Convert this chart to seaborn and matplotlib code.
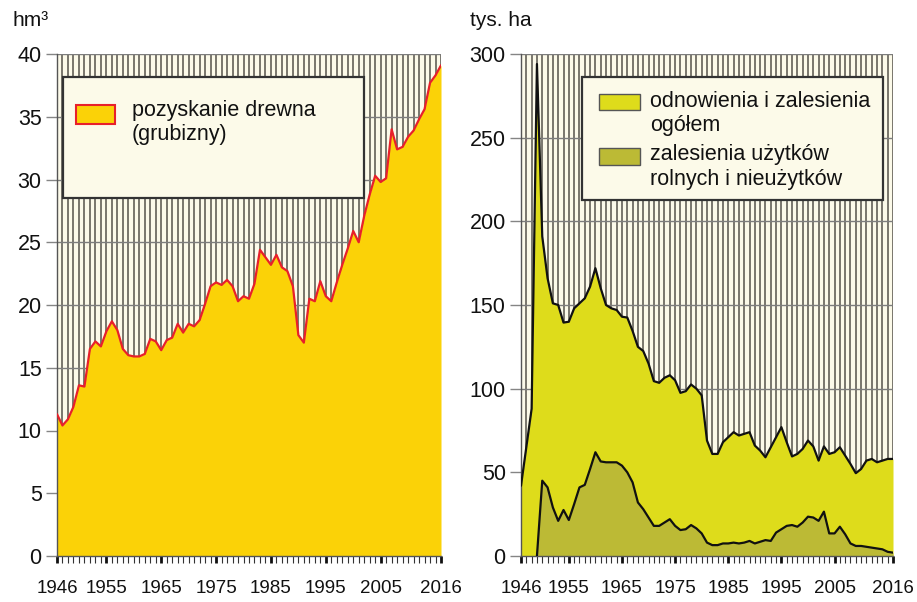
import matplotlib.pyplot as plt
import seaborn as sns
from matplotlib.patches import Rectangle
from matplotlib.ticker import FixedLocator, MultipleLocator

years = list(range(1946, 2017))
year_labels = [1946, 1955, 1965, 1975, 1985, 1995, 2005, 2016]

# pozyskanie drewna (grubizny), hm3
wood_harvest = [
    11.3, 10.4, 10.9, 11.9, 13.6, 13.5, 16.5, 17.1, 16.7, 17.9,   # 1946-1955
    18.7, 18.0, 16.5, 16.0, 15.9, 15.9, 16.1, 17.3, 17.1, 16.4,   # 1956-1965
    17.2, 17.4, 18.5, 17.8, 18.5, 18.3, 18.8, 20.1, 21.5, 21.8,   # 1966-1975
    21.6, 22.0, 21.5, 20.3, 20.7, 20.5, 21.7, 24.4, 23.8, 23.2,   # 1976-1985
    24.0, 23.0, 22.7, 21.5, 17.6, 17.0, 20.5, 20.3, 21.9, 20.7,   # 1986-1995
    20.3, 21.8, 23.2, 24.5, 25.9, 25.0, 27.1, 28.8, 30.3, 29.8,   # 1996-2005
    30.1, 34.0, 32.4, 32.6, 33.4, 33.9, 34.8, 35.6, 37.7, 38.3,   # 2006-2015
    39.1,
]

# odnowienia i zalesienia ogolem, tys. ha
renewal_total = [
    42, 65, 88, 294, 191, 166, 151, 150, 139.5, 140,
    148, 151, 154, 161, 172, 160, 150, 148, 147, 143,
    142.5, 134.5, 125, 122.5, 115, 104.5, 103.5, 106.5, 108, 105,
    97.5, 98.5, 102.5, 100, 96, 69, 61, 61, 68, 71,
    74, 72, 73, 74, 66, 63, 59, 65, 71, 77,
    68, 59.5, 61, 64, 69, 65.5, 57, 65.5, 61, 62,
    65, 60, 55, 49.5, 52, 57, 58, 56, 57, 58,
    58,
]

# zalesienia uzytkow rolnych i nieuzytkow, tys. ha (od 1949)
farmland_years = list(range(1949, 2017))
farmland_afforestation = [
    0, 45, 41, 29, 21, 27.5, 21.5,
    31, 41, 42.5, 52, 62, 56.5, 56, 56, 56, 54,
    50, 44, 32, 28, 23, 18, 18, 20, 22, 18,
    15.5, 16, 18.5, 16.5, 13.5, 8, 6.5, 6.5, 7.5, 7.5,
    8, 7.5, 8, 9, 7.5, 8.5, 9.5, 9, 14, 16,
    18, 18.5, 17.5, 20, 23.5, 23, 21, 26.5, 13.5, 13.5,
    17.5, 13, 7.5, 6, 6, 5.5, 5, 4.5, 4, 2.5,
    2,
]

left_legend = "pozyskanie drewna\n(grubizny)"
right_legend = ["odnowienia i zalesienia\nogółem", "zalesienia użytków\nrolnych i nieużytków"]

GOLD = "#fbd207"
RED = "#e8202a"
LIME = "#dedc1b"
OLIVE = "#bcba35"
CREAM = "#fcfae9"

sns.set_theme(style="white")
plt.rcParams["font.family"] = ["Liberation Sans", "DejaVu Sans"]


def style_axes(ax, ymax, ystep):
    ax.set_facecolor(CREAM)
    ax.set_xlim(1946, 2016)
    ax.set_ylim(0, ymax)
    ax.yaxis.set_major_locator(MultipleLocator(ystep))
    ax.xaxis.set_major_locator(FixedLocator(year_labels))
    ax.xaxis.set_minor_locator(MultipleLocator(1))
    ax.set_xticklabels([str(y) for y in year_labels],
                       family=["Liberation Sans Narrow", "Liberation Sans"], fontsize=13.5)
    ax.grid(which="both", axis="x", color="#55524a", linewidth=1.1)
    ax.grid(which="major", axis="y", color="#7d7d7d", linewidth=1.0)
    ax.set_axisbelow(True)
    for side in ["top", "right"]:
        ax.spines[side].set_visible(False)
    for side in ["left", "bottom"]:
        ax.spines[side].set_color("#555555")
        ax.spines[side].set_linewidth(1.0)
    ax.tick_params(axis="y", length=8, width=1, color="#858585", labelsize=15.5,
                   pad=3, left=True, labelcolor="#111111")
    ax.tick_params(axis="x", which="major", length=5, width=2, color="#111111",
                   pad=12, bottom=True, labelcolor="#111111")
    ax.tick_params(axis="x", which="minor", length=5, width=0.8, color="#333333", bottom=True)
    ax.set_xlabel("")
    ax.set_ylabel("")


fig = plt.figure(figsize=(9.17, 6.02), dpi=100)
ax1 = fig.add_axes([57 / 917, 46 / 602, 384 / 917, 502 / 602])
ax2 = fig.add_axes([521 / 917, 46 / 602, 372 / 917, 502 / 602])

# left panel
ax1.fill_between(years, wood_harvest, 0, color=GOLD, linewidth=0, zorder=2)
sns.lineplot(x=years, y=wood_harvest, ax=ax1, color=RED, linewidth=1.6, zorder=3)
style_axes(ax1, 40, 5)

ax1.add_patch(Rectangle((0.0156, 0.7131), 0.7839, 0.2410, transform=ax1.transAxes,
                        facecolor=CREAM, edgecolor="#333333", linewidth=1.6, zorder=5))
ax1.add_patch(Rectangle((0.0495, 0.8606), 0.1016, 0.0378, transform=ax1.transAxes,
                        facecolor=GOLD, edgecolor=RED, linewidth=1.5, zorder=6))
ax1.text(0.1953, 0.908, left_legend, transform=ax1.transAxes, fontsize=15.5,
         va="top", ha="left", color="#111111", zorder=6)

# right panel
ax2.fill_between(years, renewal_total, 0, color=LIME, linewidth=0, zorder=2)
ax2.fill_between(farmland_years, farmland_afforestation, 0, color=OLIVE, linewidth=0, zorder=2)
sns.lineplot(x=years, y=renewal_total, ax=ax2, color="#111111", linewidth=1.6, zorder=3)
sns.lineplot(x=farmland_years, y=farmland_afforestation, ax=ax2, color="#111111",
             linewidth=1.6, zorder=3)
style_axes(ax2, 300, 50)
ax2.tick_params(axis="y", pad=3)

ax2.add_patch(Rectangle((0.164, 0.709), 0.809, 0.245, transform=ax2.transAxes,
                        facecolor=CREAM, edgecolor="#333333", linewidth=1.6, zorder=5))
for (ybot, color, label, ytext) in [(0.888, LIME, right_legend[0], 0.927),
                                    (0.779, OLIVE, right_legend[1], 0.820)]:
    ax2.add_patch(Rectangle((0.2097, ybot), 0.110, 0.033, transform=ax2.transAxes,
                            facecolor=color, edgecolor="#555555", linewidth=1.0, zorder=6))
    ax2.text(0.3468, ytext, label, transform=ax2.transAxes, fontsize=15.5,
             va="top", ha="left", color="#111111", zorder=6)

fig.text(12 / 917, 1 - 20 / 602, "hm³", fontsize=15, va="center", ha="left", color="#111111")
fig.text(470 / 917, 1 - 20 / 602, "tys. ha", fontsize=15, va="center", ha="left", color="#111111")

fig.savefig("out.png", dpi=100, facecolor="white")
